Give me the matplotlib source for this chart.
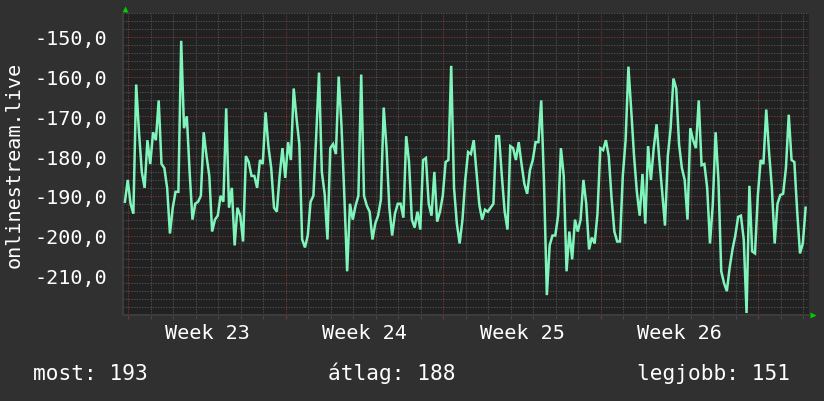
import numpy as np
import matplotlib
matplotlib.use('Agg')
from matplotlib import pyplot as plt
from matplotlib.ticker import MultipleLocator, FixedLocator, FuncFormatter
import matplotlib.transforms as mtransforms

# 3-hourly samples
values = [
    -191.5, -186, -192, -194.5, -162, -174, -184, -188, -176, -182,
    -174, -176, -166, -182, -183, -188, -199.5, -193, -189, -189,
    -151, -173, -170, -184, -196, -192, -191.5, -190, -174, -180,
    -185, -199, -196, -195, -190, -191.5, -168, -193, -188, -202.5,
    -193, -195, -201.5, -180, -181.5, -185, -185, -188, -181, -182,
    -169, -177.5, -183, -193, -194, -185, -178, -185.5, -176.5, -181,
    -163, -170.5, -177, -201, -203, -200, -191.5, -190, -175, -159,
    -184, -189.5, -201, -178, -177, -179.5, -160, -172.5, -190, -209,
    -192, -196, -192.5, -190, -159.5, -190, -192.5, -194, -201, -197,
    -195, -191, -167.8, -178, -193, -200, -194.5, -192, -192, -195.5,
    -175, -181.5, -196, -198, -194, -198.5, -181, -180.5, -192, -195,
    -184, -196.5, -194, -190, -181.5, -181, -157.3, -188, -197, -202,
    -196, -186, -179, -179.5, -176, -184, -192.3, -196, -193.5, -194,
    -193, -192, -175, -175, -185, -194, -198.5, -177.5, -178, -181,
    -176.5, -182, -187, -189.5, -183.5, -181, -176.5, -176.5, -166, -187,
    -215, -202.5, -200, -200, -195, -178, -185, -209, -199, -206,
    -196, -199, -196, -186, -192, -203.5, -200.5, -202, -194.5, -178,
    -178.5, -176, -180, -190.5, -199, -201.5, -201.5, -185, -176, -157.5,
    -168.5, -180, -189, -195, -184.5, -197, -177.5, -186, -178, -172,
    -181, -189, -197.5, -180, -173, -160.5, -163, -177, -183, -186,
    -196, -173, -176, -178, -166, -182.3, -182, -188, -202, -192,
    -174, -186, -209, -212, -214, -208, -203.5, -200, -195.3, -195,
    -201, -219.5, -187.5, -204, -204.5, -190, -181, -182, -168.3, -179,
    -188, -202, -192, -189.8, -189.5, -183, -169.6, -181, -181.5, -194,
    -204.5, -202, -193,
]
start_day = -0.15
step_day = 0.125

week_starts = [0, 7, 14, 21, 28]
week_labels = ['Week 23', 'Week 24', 'Week 25', 'Week 26']
y_ticks = [-210, -200, -190, -180, -170, -160, -150]
y_title = 'onlinestream.live'
legend_texts = ['most: 193', 'átlag: 188', 'legjobb: 151']

BG = '#303030'
PLOT_BG = '#212121'
LINE = '#80f5bb'
FONT = 'DejaVu Sans Mono'


def main():
    days = start_day + np.arange(len(values)) * step_day

    fig = plt.figure(figsize=(8.24, 4.02), dpi=100, facecolor=BG)
    ax = fig.add_axes([123 / 824, 86 / 402, 686 / 824, 302 / 402])
    ax.set_facecolor(PLOT_BG)

    ax.set_xlim(-0.236, 30.25)
    ax.set_ylim(-220, -144)

    # grid: gray dotted minor, red dotted major
    ax.xaxis.set_major_locator(FixedLocator(week_starts))
    ax.xaxis.set_minor_locator(MultipleLocator(1))
    ax.yaxis.set_major_locator(FixedLocator(y_ticks))
    ax.yaxis.set_minor_locator(MultipleLocator(2))
    ax.grid(which='minor', color='#4e4e4e', linestyle=(0, (1.2, 1.2)), linewidth=0.8)
    ax.grid(which='major', color='#7a3434', linestyle=(0, (1.2, 1.2)), linewidth=0.8)
    ax.set_axisbelow(True)

    ax.plot(days, values, color=LINE, linewidth=1.8, solid_joinstyle='miter', zorder=3)

    ax.yaxis.set_major_formatter(FuncFormatter(lambda v, p: f'{v:.1f}'.replace('.', ',')))
    ax.set_xticklabels([])
    ax.tick_params(axis='y', which='both', length=0, pad=11.5, labelsize=14.5,
                   labelcolor='white', labelfontfamily=FONT)
    ax.tick_params(axis='x', which='major', length=3, color='#7a3434')
    ax.tick_params(axis='x', which='minor', length=3, color='#4e4e4e')

    for side in ['top', 'right']:
        ax.spines[side].set_visible(False)
    for side in ['left', 'bottom']:
        ax.spines[side].set_color('#3c3c3c')
        ax.spines[side].set_linewidth(1.5)

    # week labels centred in each week
    trans = mtransforms.blended_transform_factory(ax.transData, ax.transAxes)
    for start, lab in zip(week_starts, week_labels):
        ax.text(start + 3.5, -0.076, lab, transform=trans, ha='center', va='baseline',
                color='white', fontsize=14.5, family=FONT)

    # rrdtool style arrows
    ax.plot([0.003], [1.012], marker='^', ms=5, color='#00cc00', mec='none',
            transform=ax.transAxes, clip_on=False)
    ax.plot([1.006], [0.0], marker='>', ms=5, color='#00cc00', mec='none',
            transform=ax.transAxes, clip_on=False)

    fig.text(14 / 824, (402 - 165) / 402, y_title, rotation=90, ha='center', va='center',
             color='white', fontsize=14.5, family=FONT)

    for x, txt in zip([33, 328, 637], legend_texts):
        fig.text(x / 824, 22 / 402, txt, ha='left', va='baseline',
                 color='white', fontsize=15.2, family=FONT)

    fig.savefig('out.png', dpi=100, facecolor=BG)
    plt.close(fig)


if __name__ == '__main__':
    main()
